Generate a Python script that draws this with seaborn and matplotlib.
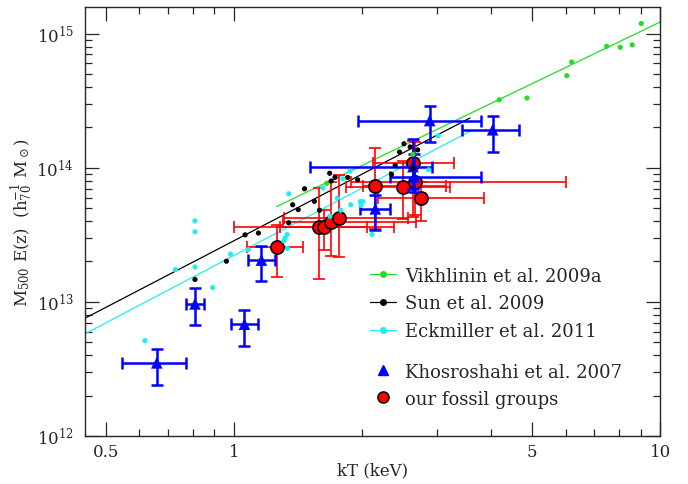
import matplotlib
matplotlib.use('Agg')
import matplotlib.pyplot as plt
import matplotlib.ticker as mticker
from matplotlib.lines import Line2D
import numpy as np
import pandas as pd
import seaborn as sns

# fitted relations (end points of each line)
vik_fit_kT = [1.26, 10.0]
vik_fit_M = [5.14e13, 1.22e15]
sun_fit_kT = [0.447, 3.58]
sun_fit_M = [7.55e12, 2.35e14]
eck_fit_kT = [0.447, 3.59]
eck_fit_M = [5.77e12, 1.88e14]

# Vikhlinin et al. 2009a
vik_kT = [9.03, 8.60, 8.06, 7.49, 6.20, 6.04, 4.87, 4.19, 2.63, 1.65]
vik_M = [1.19e15, 8.24e14, 7.91e14, 8.04e14, 6.15e14, 4.86e14, 3.31e14, 3.21e14, 1.26e14, 7.66e13]

# Sun et al. 2009
sun_kT = [0.810, 0.960, 1.062, 1.141, 1.344, 1.373, 1.415, 1.464, 1.544, 1.587, 1.677,
          1.690, 1.726, 1.848, 1.951, 2.341, 2.389, 2.446, 2.505, 2.590, 2.698, 2.630]
sun_M = [1.47e13, 2.01e13, 3.16e13, 3.26e13, 3.89e13, 5.30e13, 4.88e13, 6.97e13, 5.62e13, 4.82e13, 9.10e13,
         7.96e13, 8.47e13, 8.47e13, 8.13e13, 8.93e13, 1.04e14, 1.31e14, 1.51e14, 1.43e14, 1.36e14, 9.91e13]

# Eckmiller et al. 2011
eck_kT = [0.618, 0.729, 0.810, 0.810, 0.810, 0.891, 0.981, 1.081, 1.309, 1.318, 1.333, 1.335, 1.344,
          1.617, 1.679, 1.749, 1.781, 1.800, 1.872, 1.880, 1.978, 2.009, 1.986, 2.109, 2.864, 3.014]
eck_M = [5.14e12, 1.74e13, 4.02e13, 3.33e13, 1.82e13, 1.28e13, 2.27e13, 2.45e13, 2.84e13, 2.98e13, 3.18e13, 2.50e13, 6.40e13,
         7.06e13, 4.35e13, 5.94e13, 4.82e13, 8.28e13, 9.44e13, 5.30e13, 5.60e13, 5.60e13, 5.24e13, 3.18e13, 9.66e13, 1.73e14]

# Khosroshahi et al. 2007
kh_kT = [0.659, 0.810, 1.058, 1.160, 2.146, 2.630, 2.650, 2.879, 4.045]
kh_kT_lo = [0.547, 0.770, 0.982, 1.079, 1.978, 1.507, 2.325, 1.956, 3.420]
kh_kT_hi = [0.770, 0.851, 1.139, 1.245, 2.329, 2.922, 3.800, 3.795, 4.670]
kh_M = [3.51e12, 9.66e12, 6.82e12, 2.05e13, 4.94e13, 1.02e14, 8.57e13, 2.25e14, 1.92e14]
kh_M_lo = [2.42e12, 6.73e12, 4.72e12, 1.42e13, 3.43e13, 6.97e13, 6.62e13, 1.56e14, 1.32e14]
kh_M_hi = [4.46e12, 1.26e13, 8.77e12, 2.63e13, 6.30e13, 1.65e14, 1.27e14, 2.89e14, 2.43e14]

# our fossil groups
fg_kT = [1.26, 1.58, 1.63, 1.69, 1.76, 2.14, 2.49, 2.63, 2.66, 2.75]
fg_kT_lo = [1.07, 1.00, 1.28, 1.30, 1.31, 2.01, 1.83, 2.12, 1.88, 2.18]
fg_kT_hi = [1.45, 2.05, 2.38, 2.68, 2.56, 3.14, 3.22, 3.28, 6.00, 3.86]
fg_M = [2.57e13, 3.59e13, 3.59e13, 3.91e13, 4.21e13, 7.25e13, 7.21e13, 1.08e14, 7.82e13, 5.94e13]
fg_M_lo = [1.53e13, 1.48e13, 2.44e13, 2.20e13, 2.17e13, 3.51e13, 4.16e13, 4.31e13, 4.46e13, 4.02e13]
fg_M_hi = [3.76e13, 7.09e13, 4.86e13, 7.87e13, 8.87e13, 1.41e14, 1.13e14, 1.59e14, 1.56e14, 7.87e13]

sns.set_style('ticks')
plt.rcParams['font.family'] = ['DejaVu Serif']
plt.rcParams['mathtext.fontset'] = 'dejavuserif'

fig = plt.figure(figsize=(6.88, 4.85), dpi=100)
ax = fig.add_axes([0.1235, 0.099, 0.836, 0.8845])

green = '#22dd22'
cyan = '#22eeee'

sns.lineplot(x=vik_fit_kT, y=vik_fit_M, color=green, lw=0.9, ax=ax)
sns.lineplot(x=sun_fit_kT, y=sun_fit_M, color='black', lw=0.9, ax=ax)
sns.lineplot(x=eck_fit_kT, y=eck_fit_M, color=cyan, lw=0.9, ax=ax)

def err(v, lo, hi):
    v, lo, hi = np.array(v), np.array(lo), np.array(hi)
    return [v - lo, hi - v]

ax.errorbar(fg_kT, fg_M, xerr=err(fg_kT, fg_kT_lo, fg_kT_hi), yerr=err(fg_M, fg_M_lo, fg_M_hi),
            fmt='none', ecolor='red', elinewidth=1.2, capsize=4, capthick=1.2, zorder=3)
fg = pd.DataFrame({'kT': fg_kT, 'M': fg_M})
sns.scatterplot(data=fg, x='kT', y='M', color='red', edgecolor='black', linewidth=1.2, s=90, zorder=4, ax=ax)

ax.errorbar(kh_kT, kh_M, xerr=err(kh_kT, kh_kT_lo, kh_kT_hi), yerr=err(kh_M, kh_M_lo, kh_M_hi),
            fmt='none', ecolor='blue', elinewidth=1.8, capsize=4, capthick=1.8, zorder=5)
kh = pd.DataFrame({'kT': kh_kT, 'M': kh_M})
sns.scatterplot(data=kh, x='kT', y='M', color='blue', marker='^', edgecolor='none', s=70, zorder=6, ax=ax)

for xs, ys, c in [(vik_kT, vik_M, green), (sun_kT, sun_M, 'black'), (eck_kT, eck_M, cyan)]:
    sns.scatterplot(x=xs, y=ys, color=c, edgecolor='none', s=14, zorder=7, ax=ax)

ax.set_xscale('log')
ax.set_yscale('log')
ax.set_xlim(0.447, 10.0)
ax.set_ylim(1e12, 1.58e15)

ax.xaxis.set_major_locator(mticker.FixedLocator([0.5, 1, 5, 10]))
ax.xaxis.set_major_formatter(mticker.FixedFormatter(['0.5', '1', '5', '10']))
ax.xaxis.set_minor_locator(mticker.FixedLocator([0.6, 0.7, 0.8, 0.9, 2, 3, 4, 6, 7, 8, 9]))
ax.xaxis.set_minor_formatter(mticker.NullFormatter())
ax.yaxis.set_major_locator(mticker.LogLocator(base=10))
ax.yaxis.set_minor_locator(mticker.LogLocator(base=10, subs=np.arange(2, 10)))
ax.yaxis.set_minor_formatter(mticker.NullFormatter())

ax.tick_params(which='both', direction='in', top=True, right=True, width=0.9, labelsize=12)
ax.tick_params(which='major', length=10)
ax.tick_params(axis='x', which='major', pad=5)
ax.tick_params(axis='y', which='major', pad=8)
ax.tick_params(which='minor', length=5)
for s in ax.spines.values():
    s.set_linewidth(1.0)

ax.set_xlabel('kT (keV)', fontsize=12, labelpad=1)
ax.set_ylabel(r'M$_{500}$ E(z)  (h$_{70}^{-1}$ M$_\odot$)', fontsize=12, labelpad=1)

h1 = [Line2D([], [], color=green, marker='o', ms=4, lw=0.9),
      Line2D([], [], color='black', marker='o', ms=4, lw=0.9),
      Line2D([], [], color=cyan, marker='o', ms=4, lw=0.9)]
leg1 = ax.legend(h1, ['Vikhlinin et al. 2009a', 'Sun et al. 2009', 'Eckmiller et al. 2011'],
                 loc='upper left', bbox_to_anchor=(0.496, 0.395), frameon=False, fontsize=13,
                 handlelength=1.4, handletextpad=0.55, labelspacing=0.55, borderpad=0, borderaxespad=0)
ax.add_artist(leg1)
h2 = [Line2D([], [], color='blue', marker='^', ms=7, lw=0),
      Line2D([], [], color='red', marker='o', ms=8, mec='black', mew=1.1, lw=0)]
ax.legend(h2, ['Khosroshahi et al. 2007', 'our fossil groups'],
          loc='upper left', bbox_to_anchor=(0.496, 0.171), frameon=False, fontsize=13,
          handlelength=1.4, handletextpad=0.55, labelspacing=0.5, borderpad=0, borderaxespad=0)

fig.savefig('out.png', dpi=100)
